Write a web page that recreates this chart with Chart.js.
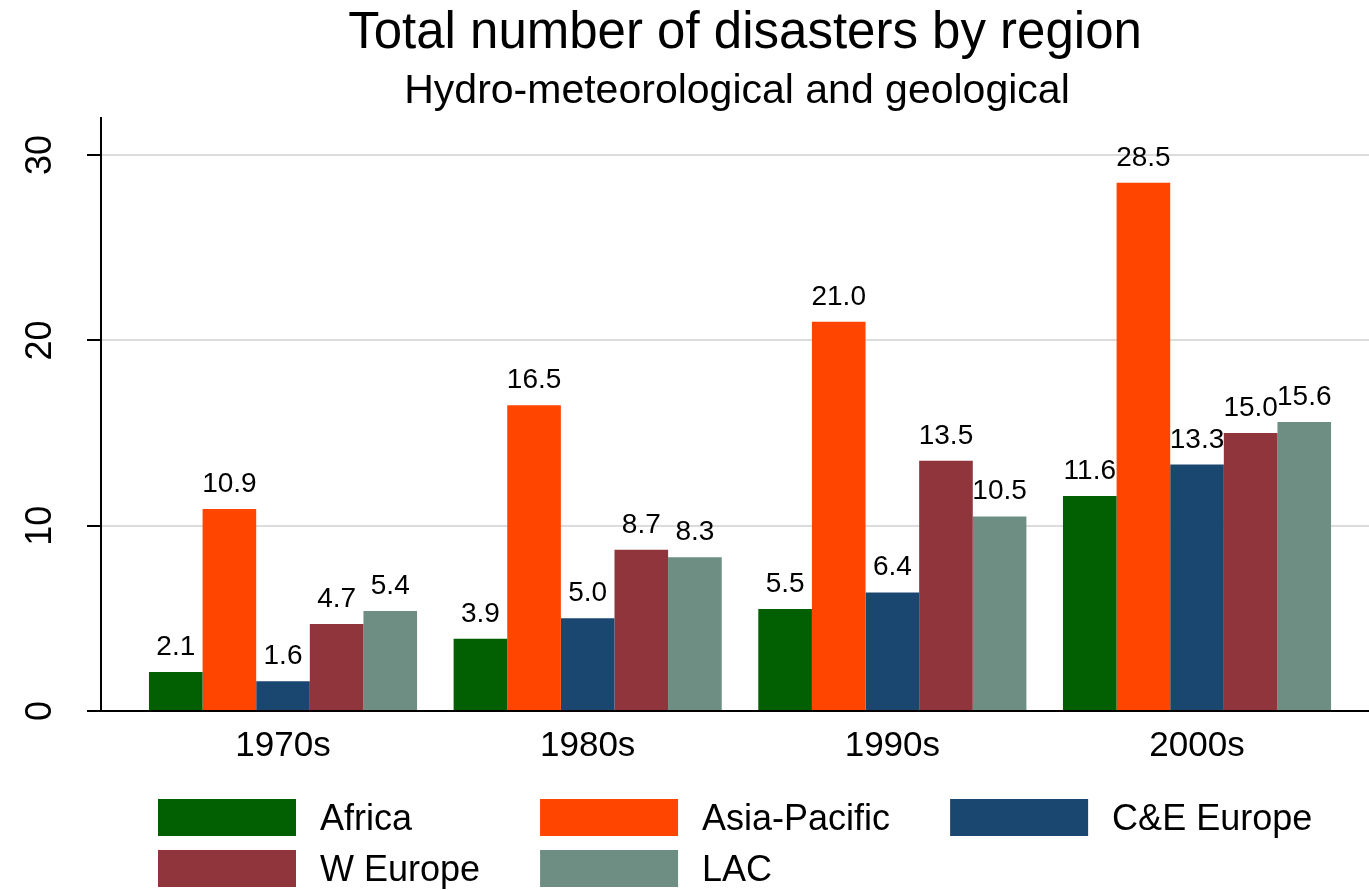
<!DOCTYPE html>
<html>
<head>
<meta charset="utf-8">
<script src="https://cdn.jsdelivr.net/npm/chart.js@4"></script>
<style>
  body { margin: 0; background: #fff; }
  #wrap { width: 1369px; height: 890px; position: relative; }
</style>
</head>
<body>
<div id="wrap"><canvas id="myChart"></canvas></div>
<script>
const decades = ["1970s", "1980s", "1990s", "2000s"];
const regions = ["Africa", "Asia-Pacific", "C&E Europe", "W Europe", "LAC"];
const africa = [2.1, 3.9, 5.5, 11.6];
const asiaPacific = [10.9, 16.5, 21.0, 28.5];
const ceEurope = [1.6, 5.0, 6.4, 13.3];
const wEurope = [4.7, 8.7, 13.5, 15.0];
const lac = [5.4, 8.3, 10.5, 15.6];
const yTicks = [0, 10, 20, 30];

const seriesValues = [africa, asiaPacific, ceEurope, wEurope, lac];
const colors = ["#025f02", "#ff4500", "#1a476f", "#90353b", "#6e8e84"];
const FONT = "'Liberation Sans', Arial, sans-serif";
const titleText = "Total number of disasters by region";
const subtitleText = "Hydro-meteorological and geological";

const ctx = document.getElementById("myChart").getContext("2d");

// titles drawn by hand so they sit a bit right of the plot centre, like the original
const titles = {
  id: "titles",
  afterDraw: function (chart) {
    const c = chart.ctx;
    c.save();
    c.fillStyle = "#000";
    c.textAlign = "center";
    c.textBaseline = "alphabetic";
    c.font = "51px " + FONT;
    c.fillText(titleText, 745, 48);
    c.font = "41px " + FONT;
    c.fillText(subtitleText, 737, 103);
    c.restore();
  },
};

const valueLabels = {
  id: "valueLabels",
  afterDatasetsDraw: function (chart) {
    const c = chart.ctx;
    c.save();
    c.font = "28px " + FONT;
    c.fillStyle = "#000";
    c.textAlign = "center";
    c.textBaseline = "alphabetic";
    chart.data.datasets.forEach(function (ds, i) {
      chart.getDatasetMeta(i).data.forEach(function (bar, j) {
        c.fillText(ds.data[j].y.toFixed(1), bar.x, bar.y - 17);
      });
    });
    c.restore();
  },
};

const gridLegend = {
  id: "gridLegend",
  afterDraw: function (chart) {
    const c = chart.ctx;
    const area = chart.chartArea;
    c.save();
    c.font = "36px " + FONT;
    c.textBaseline = "middle";
    c.textAlign = "left";
    const ds = chart.data.datasets;
    const cols = 3;
    const colW = [];
    for (let k = 0; k < cols; k++) {
      let w = 0;
      for (let i = k; i < ds.length; i += cols) {
        w = Math.max(w, c.measureText(ds[i].label).width);
      }
      colW.push(138 + 24 + w + 60);
    }
    let x0 = area.left + 57;
    const colX = [];
    colW.forEach(function (w) { colX.push(x0); x0 += w; });
    ds.forEach(function (d, i) {
      const x = colX[i % cols];
      const y = area.bottom + 88 + Math.floor(i / cols) * 51;
      c.fillStyle = d.backgroundColor;
      c.fillRect(x, y, 138, 37);
      c.fillStyle = "#000";
      c.fillText(d.label, x + 162, y + 21);
    });
    c.restore();
  },
};

const chart = new Chart(ctx, {
  type: "bar",
  data: {
    datasets: regions.map(function (name, i) {
      return {
        label: name,
        data: seriesValues[i].map(function (v, j) { return { x: j, y: v }; }),
        backgroundColor: colors[i],
        borderWidth: 0,
        barPercentage: 1,
        categoryPercentage: 0.88,
      };
    }),
  },
  options: {
    responsive: true,
    maintainAspectRatio: false,
    animation: false,
    layout: { padding: { top: 118, left: 0, right: 0, bottom: 0 } },
    scales: {
      x: {
        type: "linear",
        offset: false,
        min: -0.5974,
        max: 3.5645,
        afterBuildTicks: function (scale) {
          scale.ticks = decades.map(function (d, i) { return { value: i }; });
        },
        afterFit: function (scale) { scale.height = 179; },
        ticks: {
          color: "#000",
          font: { size: 35, family: FONT },
          padding: 14,
          maxRotation: 0,
          autoSkip: false,
          callback: function (v) { return decades[v]; },
        },
        grid: { display: false, drawTicks: false, offset: false },
        border: { display: true, color: "#000", width: 2 },
      },
      y: {
        min: 0,
        max: 32,
        afterBuildTicks: function (scale) {
          scale.ticks = yTicks.map(function (v) { return { value: v }; });
        },
        afterFit: function (scale) { scale.width = 101; },
        ticks: {
          color: "#000",
          font: { size: 36, family: FONT },
          minRotation: 90,
          maxRotation: 90,
          crossAlign: "center",
          padding: 26,
        },
        grid: {
          color: function (c) { return c.tick && c.tick.value === 0 ? "rgba(0,0,0,0)" : "#dcdcdc"; },
          lineWidth: 2,
          tickColor: "#000",
          tickLength: 14,
          tickWidth: 2,
        },
        border: { display: true, color: "#000", width: 2 },
      },
    },
    plugins: {
      legend: { display: false },
      tooltip: { enabled: false },
      title: { display: false },
    },
  },
  plugins: [titles, valueLabels, gridLegend],
});
</script>
</body>
</html>
